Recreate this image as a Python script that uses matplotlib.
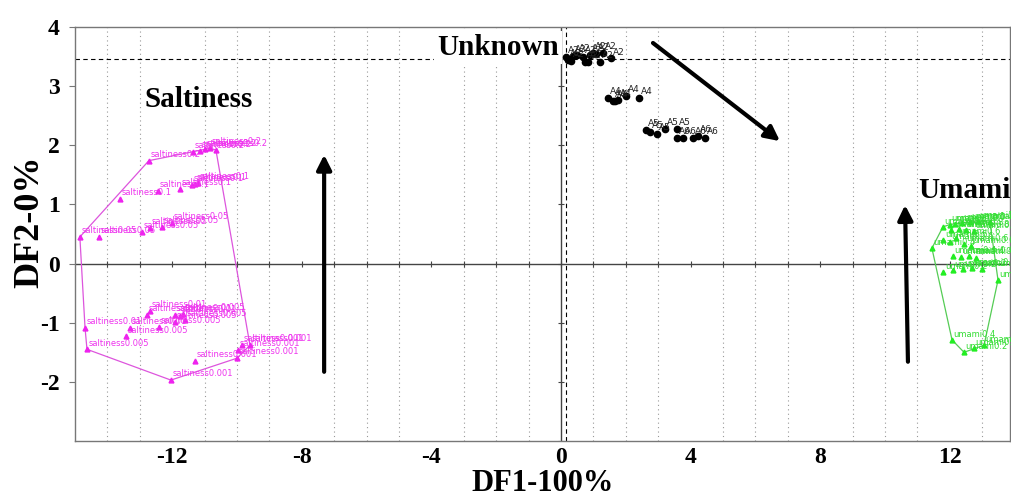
import numpy as np
import matplotlib.pyplot as plt

plt.rcParams['axes.unicode_minus'] = False

# saltiness samples (DF1, DF2, label)
salt_x = [-12.72, -11.36, -11.14, -10.99, -10.83, -10.65,
          -13.60, -12.44, -11.76, -11.40, -11.30, -11.20,
          -14.85, -14.26, -12.93, -12.69, -12.31, -12.00,
          -14.69, -13.30, -12.78, -12.69, -11.91, -11.76,
          -14.63, -13.43, -12.41, -11.91, -11.67, -11.60,
          -12.04, -11.30, -10.00, -9.97, -9.85, -9.60]
salt_y = [1.74, 1.89, 1.91, 1.93, 1.95, 1.92,
          1.09, 1.23, 1.26, 1.33, 1.35, 1.36,
          0.45, 0.45, 0.53, 0.60, 0.62, 0.69,
          -1.09, -1.09, -0.87, -0.80, -0.87, -0.89,
          -1.45, -1.23, -1.07, -0.98, -0.85, -0.95,
          -1.97, -1.65, -1.60, -1.46, -1.38, -1.38]
salt_lab = (['saltiness0.2'] * 6 + ['saltiness0.1'] * 6 + ['saltiness0.05'] * 6 +
            ['saltiness0.01'] * 6 + ['saltiness0.005'] * 6 + ['saltiness0.001'] * 6)

# unknown samples
unk_x = [0.15, 0.22, 0.31, 0.37, 0.49, 0.68, 0.74, 0.83, 0.90, 0.99, 1.08, 1.20, 1.30, 1.54,
         1.45, 1.60, 1.67, 1.76, 2.01, 2.41,
         2.62, 2.75, 2.96, 3.21, 3.58,
         3.58, 3.77, 4.07, 4.23, 4.44]
unk_y = [3.50, 3.45, 3.43, 3.51, 3.53, 3.50, 3.41, 3.41, 3.53, 3.56, 3.55, 3.41, 3.56, 3.47,
         2.80, 2.75, 2.75, 2.77, 2.84, 2.80,
         2.26, 2.23, 2.19, 2.28, 2.28,
         2.12, 2.12, 2.12, 2.16, 2.12]
unk_lab = ['A2'] * 14 + ['A4'] * 6 + ['A5'] * 5 + ['A6'] * 5

# umami samples
umami_x = [12.00, 12.16, 12.38, 12.62, 12.87, 13.24,
           11.79, 12.05, 12.30, 12.50, 12.75,
           11.80, 12.00, 12.20, 12.45, 12.65,
           11.45, 12.10, 12.35, 12.60, 12.80,
           11.80, 12.10, 12.40, 12.70, 13.00, 13.49,
           12.07, 12.44, 12.75, 13.06]
umami_y = [0.66, 0.67, 0.69, 0.70, 0.72, 0.70,
           0.62, 0.56, 0.59, 0.57, 0.55,
           0.40, 0.36, 0.44, 0.33, 0.30,
           0.26, 0.12, 0.11, 0.12, 0.10,
           -0.14, -0.11, -0.10, -0.07, -0.10, -0.28,
           -1.29, -1.50, -1.43, -1.38]
umami_lab = (['umami1.0'] * 6 + ['umami0.8'] * 5 + ['umami0.6'] * 5 + ['umami0.4'] * 5 +
             ['umami0.2'] * 6 + ['umami0.4'] + ['umami0.2'] * 3)


def hull(xs, ys):
    pts = sorted(zip(xs, ys))
    def cross(o, a, b):
        return (a[0] - o[0]) * (b[1] - o[1]) - (a[1] - o[1]) * (b[0] - o[0])
    lower, upper = [], []
    for p in pts:
        while len(lower) >= 2 and cross(lower[-2], lower[-1], p) <= 0:
            lower.pop()
        lower.append(p)
    for p in reversed(pts):
        while len(upper) >= 2 and cross(upper[-2], upper[-1], p) <= 0:
            upper.pop()
        upper.append(p)
    h = lower[:-1] + upper[:-1]
    h.append(h[0])
    return [p[0] for p in h], [p[1] for p in h]


fig = plt.figure(figsize=(10.11, 4.95), dpi=100)
ax = fig.add_axes([75 / 1011, 1 - 441 / 495, 935 / 1011, 414 / 495])
ax.set_xlim(-15, 13.86)
ax.set_ylim(-3, 4)

# grid
ax.set_xticks(np.arange(-14, 14, 1), minor=True)
ax.set_yticks(np.arange(-2, 4, 1), minor=True)
ax.grid(which='minor', ls=(0, (1, 3)), color='#999999', lw=0.8)
ax.axhline(0, color='#444444', lw=1)
ax.axvline(0, color='#444444', lw=1)
ax.plot(np.arange(-14, 14), np.zeros(28), ls='none', marker='|', color='#444444', ms=5, mew=0.8)
ax.plot(np.zeros(7), np.arange(-3, 4), ls='none', marker='_', color='#444444', ms=5, mew=0.8)
ax.axhline(3.46, color='black', ls=(0, (4, 3)), lw=0.8)
ax.axvline(0.15, color='black', ls=(0, (4, 3)), lw=0.8)

for s in ax.spines.values():
    s.set_color('#777777')
    s.set_linewidth(1)

ax.set_xticks([-12, -8, -4, 0, 4, 8, 12])
ax.set_yticks([-2, -1, 0, 1, 2, 3, 4])
ax.tick_params(axis='x', which='both', length=0, pad=4)
ax.tick_params(axis='y', which='major', length=4, color='#777777', pad=7)
ax.tick_params(axis='y', which='minor', length=0)
for t in ax.get_xticklabels() + ax.get_yticklabels():
    t.set_fontfamily('Liberation Serif')
    t.set_fontweight('bold')
    t.set_fontsize(17)

ax.set_xlabel('DF1-100%', fontfamily='Liberation Serif', fontweight='bold', fontsize=22, labelpad=1)
ax.set_ylabel('DF2-0%', fontfamily='Liberation Serif', fontweight='bold', fontsize=26)
ax.yaxis.set_label_coords(-0.031, 0.53)

# saltiness
hx, hy = hull(salt_x, salt_y)
ax.plot(hx, hy, color='#dd55dd', lw=0.9)
ax.plot(salt_x, salt_y, ls='none', marker='^', color='#ee22ee', ms=3.5)
for x, y, l in zip(salt_x, salt_y, salt_lab):
    ax.text(x + 0.05, y + 0.03, l, color='#ee33ee', fontsize=6, va='bottom')

# unknown
ax.plot(unk_x, unk_y, ls='none', marker='o', color='black', ms=4.5)
for x, y, l in zip(unk_x, unk_y, unk_lab):
    ax.text(x + 0.05, y + 0.03, l, color='#222222', fontsize=6.5, va='bottom')

# umami
hx, hy = hull(umami_x, umami_y)
ax.plot(hx, hy, color='#55cc55', lw=0.9)
ax.plot(umami_x, umami_y, ls='none', marker='^', color='#22ee22', ms=3.5)
for x, y, l in zip(umami_x, umami_y, umami_lab):
    ax.text(x + 0.05, y + 0.02, l, color='#33dd33', fontsize=6, va='bottom', clip_on=False)

# arrows
arr = dict(arrowstyle='-|>', color='black', lw=3, mutation_scale=22, shrinkA=0, shrinkB=0)
ax.annotate('', xy=(-7.31, 1.84), xytext=(-7.31, -1.83), arrowprops=arr)
ax.annotate('', xy=(6.76, 2.07), xytext=(2.84, 3.73), arrowprops=arr)
ax.annotate('', xy=(10.62, 0.99), xytext=(10.71, -1.66), arrowprops=arr)

# group names
tf = dict(fontfamily='Liberation Serif', fontweight='bold', fontsize=21)
ax.text(-12.84, 2.77, 'Saltiness', va='center', ha='left', **tf)
ax.text(-1.94, 3.66, 'Unknown', va='center', ha='center',
        bbox=dict(fc='white', ec='none', pad=2), **tf)
ax.text(11.02, 1.24, 'Umami', va='center', ha='left', clip_on=False, **tf)

fig.savefig('out.png', dpi=100)
